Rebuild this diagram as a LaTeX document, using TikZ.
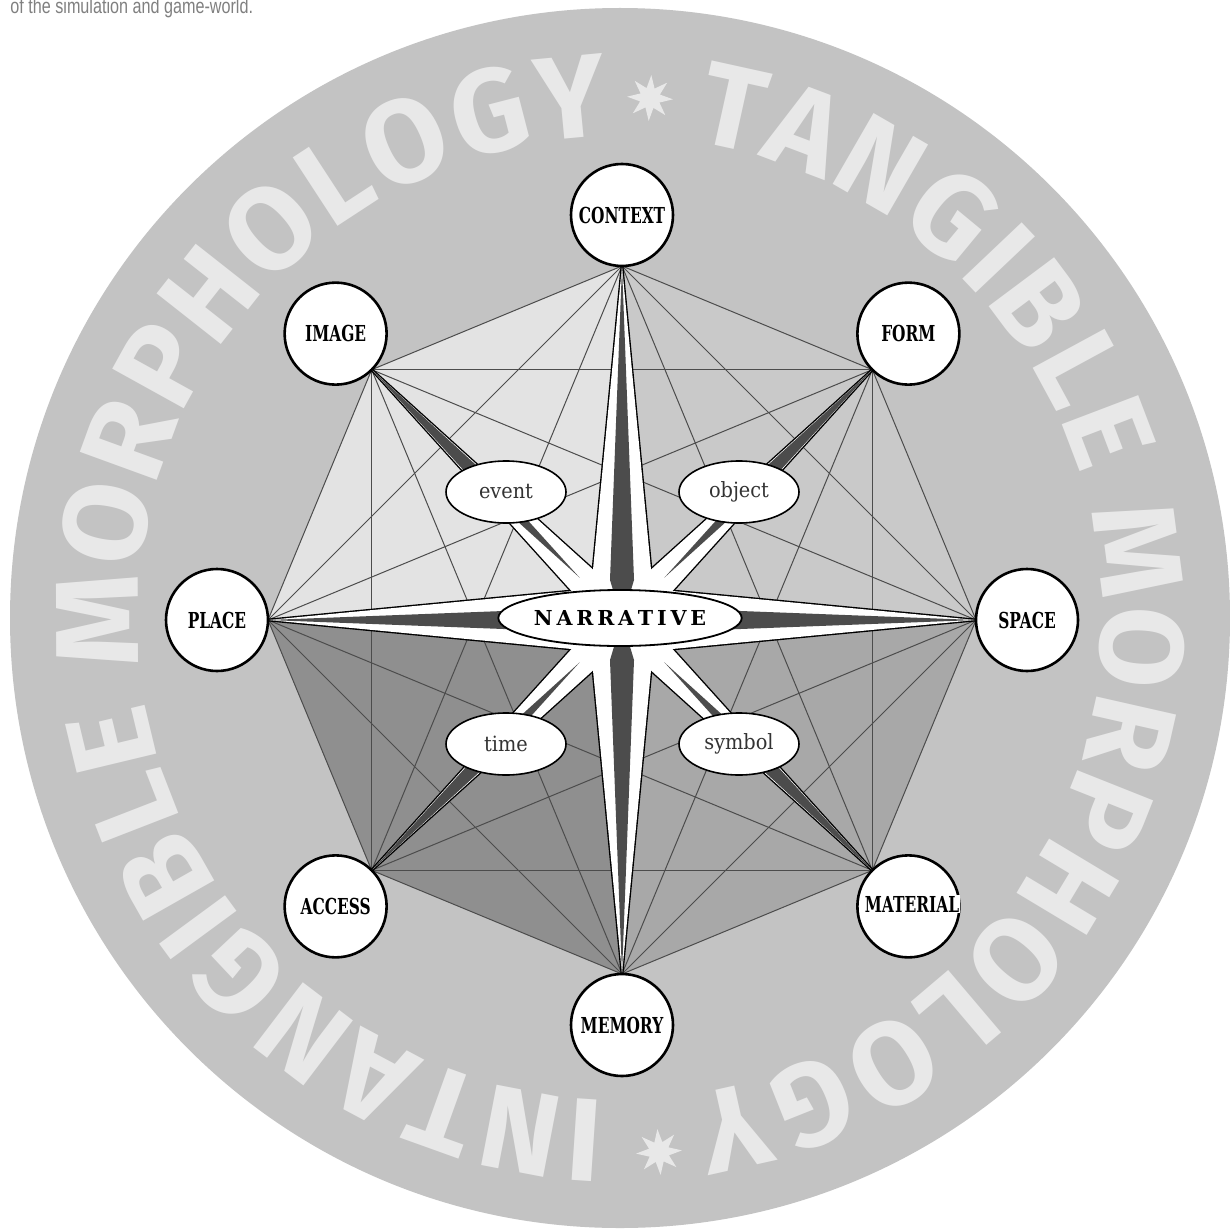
\documentclass[tikz,border=0pt]{standalone}
\usepackage{fontspec}
\usepackage{graphicx}
\usetikzlibrary{shapes.geometric,decorations.text,calc}
\setmainfont{Liberation Serif}
\newfontfamily\labfam{DejaVu Serif}
\newfontfamily\ringfam{Fira Sans}
\newfontfamily\capfam{Liberation Sans}
\definecolor{bgcol}{gray}{0.765}
\definecolor{ringcol}{gray}{0.91}
\definecolor{qul}{gray}{0.89}
\definecolor{qur}{gray}{0.79}
\definecolor{qll}{gray}{0.56}
\definecolor{qlr}{gray}{0.66}
\definecolor{chord}{gray}{0.3}
\definecolor{armdark}{gray}{0.3}
\definecolor{captioncol}{gray}{0.5}
\definecolor{lowtext}{gray}{0.2}
\newcommand\biglabel[1]{\scalebox{0.7}[1]{\fontsize{11pt}{11pt}\selectfont\labfam\bfseries #1}}
\newcommand\smalllabel[1]{\scalebox{0.92}[1]{\fontsize{10.5pt}{10.5pt}\selectfont\labfam\color{lowtext}#1}}
\newcommand\nk{\kern1.9pt }
\begin{document}
\begin{tikzpicture}[x=0.5pt,y=-0.5pt,
  vnode/.style={circle, draw=black, line width=1.3pt, fill=white, minimum size=51pt, inner sep=0pt},
  enode/.style={ellipse, draw=black, line width=0.8pt, fill=white, minimum width=60pt, minimum height=31pt, inner sep=0pt},
  chordline/.style={draw=chord, line width=0.5pt},
  ringstar/.style={star, star points=8, star point ratio=2.2, minimum size=23pt, inner sep=0pt, fill=ringcol, draw=none}
]
\useasboundingbox (0,0) rectangle (1230,1230);
\fill[white] (0,0) rectangle (1230,1230);
\fill[bgcol] (620,618) circle[radius=610];

% caption
\node[anchor=base west, inner sep=0pt, text=captioncol] (caption) at (10,14)
  {\scalebox{0.77}[1]{\fontsize{10.5pt}{11pt}\selectfont\capfam of the simulation and game-world.}};

% ring text
\path[decorate, decoration={text along path, text align={fit to path},
  text={|\color{ringcol}\fontsize{59pt}{60pt}\selectfont\ringfam\bfseries|TANGIBLE MORPHOLOGY}}]
  (620,618) ++(-81.3:482) arc[start angle=-81.3, end angle=81.5, radius=482];
\path[decorate, decoration={text along path, text align={fit to path},
  text={|\color{ringcol}\fontsize{59pt}{60pt}\selectfont\ringfam\bfseries|INTANGIBLE MORPHOLOGY}}]
  (620,618) ++(91.8:482) arc[start angle=91.8, end angle=268.7, radius=482];
\node[ringstar, rotate=-3.3] (startop) at (650,98) {};
\node[ringstar, rotate=4] (starbottom) at (659,1152) {};

% octagon vertices
\coordinate (C) at (622,620);
\foreach \k in {0,...,7}{
  \path (C) ++({\k*45-90}:354) coordinate (v\k);
}

% quadrant fills
\fill[qul] (C) -- (v6) -- (v7) -- (v0) -- cycle;
\fill[qur] (C) -- (v0) -- (v1) -- (v2) -- cycle;
\fill[qlr] (C) -- (v2) -- (v3) -- (v4) -- cycle;
\fill[qll] (C) -- (v4) -- (v5) -- (v6) -- cycle;

% chords (complete graph)
\foreach \a in {0,...,6}{
  \pgfmathtruncatemacro\s{\a+1}
  \foreach \b in {\s,...,7}{
    \draw[chordline] (v\a) -- (v\b);
  }
}

% compass star arms
\def\armlist{0/50/36.87,1/43.1/21.8,2/50/36.87,3/43.1/21.8,4/50/36.87,5/43.1/21.8,6/50/36.87,7/43.1/21.8}
\foreach \k/\r/\o in \armlist{
  \pgfmathsetmacro\p{\k*45-90}
  \filldraw[draw=black, line width=1.4pt, fill=white] (C) -- ($(C)+({\p+\o}:\r)$) -- ($(C)+(\p:354)$) -- ($(C)+({\p-\o}:\r)$) -- cycle;
}
\foreach \k/\r/\o in \armlist{
  \pgfmathsetmacro\p{\k*45-90}
  \fill[white] (C) -- ($(C)+({\p+\o}:\r)$) -- ($(C)+(\p:354)$) -- ($(C)+({\p-\o}:\r)$) -- cycle;
}
% dark stripes: centred kites on the cardinal arms
\foreach \k in {0,2,4,6}{
  \pgfmathsetmacro\p{\k*45-90}
  \fill[armdark] (C) -- ($(C)+({\p+16.7}:41.8)$) -- ($(C)+(\p:354)$) -- ($(C)+({\p-16.7}:41.8)$) -- cycle;
}
% dark stripes: slender, toward the tip on the diagonal arms
\foreach \k in {1,3,5,7}{
  \pgfmathsetmacro\p{\k*45-90}
  \fill[armdark] ($(C)+(\p:60)$) -- ($(C)+({\p+2.0}:200)$) -- ($(C)+(\p:354)$) -- ($(C)+({\p-2.0}:200)$) -- cycle;
}

% inner ellipses
\node[enode] (event) at (506,492) {\smalllabel{event}};
\node[enode] (object) at (739,492) {\smalllabel{object}};
\node[enode] (time) at (506,744) {\smalllabel{time}};
\node[enode] (symbol) at (739,744) {\smalllabel{symbol}};
\node[ellipse, draw=black, line width=0.9pt, fill=white, minimum width=97pt, minimum height=28pt, inner sep=0pt] (narrative) at (620,618)
  {\fontsize{10.3pt}{10.3pt}\selectfont\labfam\bfseries N\nk A\nk R\nk R\nk A\nk T\nk I\nk V\nk E};

% outer circle nodes
\path (C) ++(-90:405) node[vnode] (context) {\biglabel{CONTEXT}};
\path (C) ++(-45:405) node[vnode] (form) {\biglabel{FORM}};
\path (C) ++(0:405) node[vnode] (space) {\biglabel{SPACE}};
\path (C) ++(45:405) node[vnode] (material) {};
\path (C) ++(90:405) node[vnode] (memory) {\biglabel{MEMORY}};
\path (C) ++(135:405) node[vnode] (access) {\biglabel{ACCESS}};
\path (C) ++(180:405) node[vnode] (place) {\biglabel{PLACE}};
\path (C) ++(225:405) node[vnode] (image) {\biglabel{IMAGE}};
\begin{scope}
  \clip (850,860) rectangle (960,950);
  \node[fill=white, inner sep=0.5pt] (matlabel) at (912,904) {\biglabel{MATERIAL}};
\end{scope}
\end{tikzpicture}
\end{document}
